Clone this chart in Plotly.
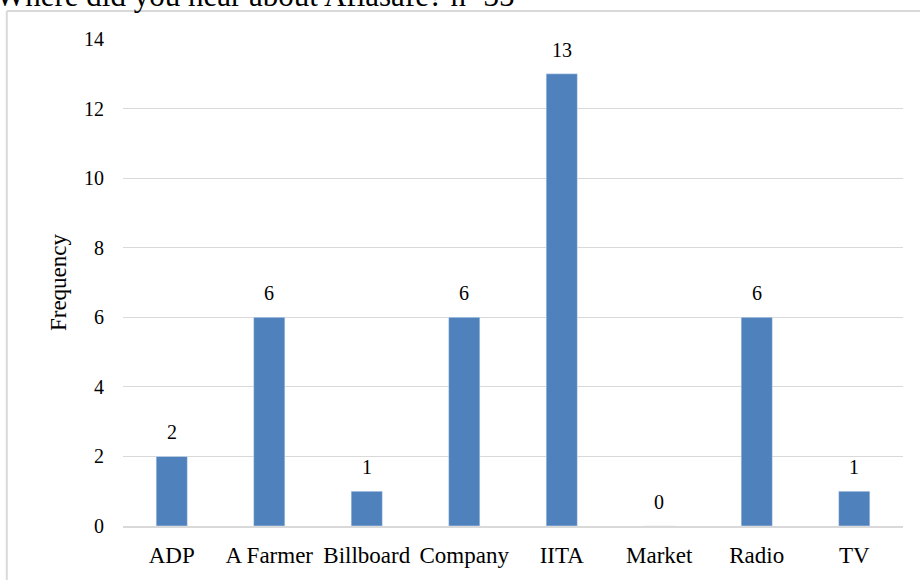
import plotly.graph_objects as go

# Survey responses: where did you hear about Aflasafe (n=35)
sources = ["ADP", "A Farmer", "Billboard", "Company", "IITA", "Market", "Radio", "TV"]
frequency = [2, 6, 1, 6, 13, 0, 6, 1]
y_ticks = [0, 2, 4, 6, 8, 10, 12, 14]

serif = "Liberation Serif, Times New Roman, serif"
bar_color = "#4f81bd"
grid_color = "#d9d9d9"

fig = go.Figure(go.Bar(x=sources, y=frequency, marker_color=bar_color, width=0.32))

# value labels above each bar
for s, v in zip(sources, frequency):
    fig.add_annotation(x=s, y=v, text=str(v), showarrow=False, yshift=24,
                       yanchor="middle", font=dict(family=serif, size=20, color="black"))

# title, cut off at the top of the image like the reference
fig.add_annotation(xref="paper", yref="paper", x=-0.166, y=1.05,
                   xanchor="left", yanchor="bottom", showarrow=False,
                   text="Where did you hear about Aflasafe? n=35",
                   font=dict(family=serif, size=31, color="black"))

# light frame around the chart area (top and left edges)
fig.add_shape(type="line", xref="paper", yref="paper", x0=-0.149, x1=1.1,
              y0=1.0573, y1=1.0573, line=dict(color=grid_color, width=2))
fig.add_shape(type="line", xref="paper", yref="paper", x0=-0.149, x1=-0.149,
              y0=1.0573, y1=-0.2, line=dict(color=grid_color, width=2))

fig.update_layout(
    width=920, height=580,
    margin=dict(l=123, r=17, t=39, b=52),
    paper_bgcolor="white", plot_bgcolor="white",
    showlegend=False,
    font=dict(family=serif, color="black"),
    xaxis=dict(showgrid=False, showline=True, linecolor=grid_color, linewidth=1.5,
               ticks="", tickfont=dict(family=serif, size=23), ticklabelstandoff=8),
    yaxis=dict(range=[0, 14], tickvals=y_ticks, showgrid=True, gridcolor=grid_color,
               gridwidth=1.2, zeroline=False, showline=False, ticks="",
               tickfont=dict(family=serif, size=20), ticklabelstandoff=18,
               title=dict(text="Frequency", font=dict(family=serif, size=23), standoff=10)),
)

# drop the default page margin so the figure sits at the window's corner
fig.write_html("out.html", config={"displayModeBar": False},
               post_script="document.body.style.margin='0';")
